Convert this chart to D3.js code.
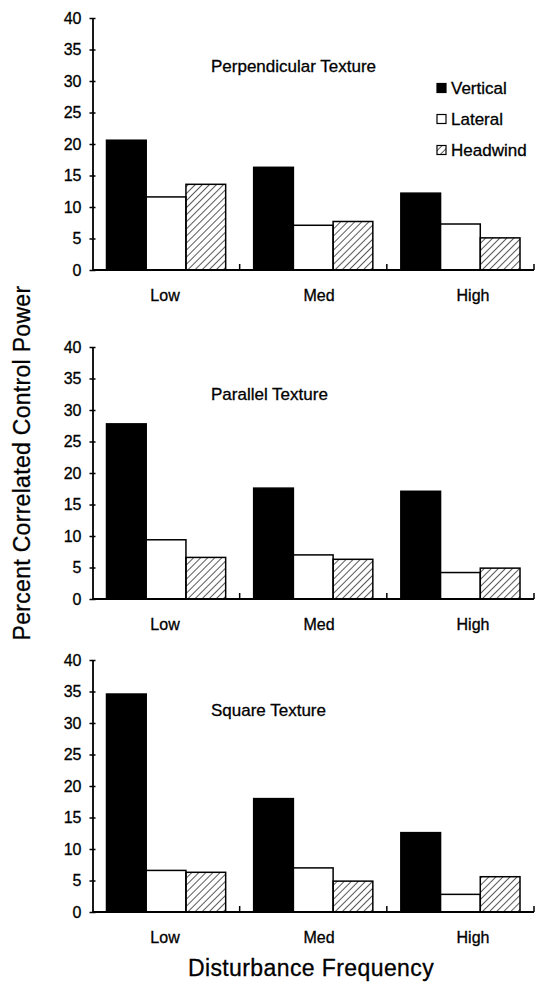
<!DOCTYPE html>
<html>
<head>
<meta charset="utf-8">
<script src="https://cdn.jsdelivr.net/npm/d3@7"></script>
<style>
body { margin: 0; background: #fff; }
text { font-family: "Liberation Sans", Arial, sans-serif; fill: #000; stroke: #000; stroke-width: 0.3px; }
</style>
</head>
<body>
<script>

var categories = ["Low", "Med", "High"];
var series = ["Vertical", "Lateral", "Headwind"];
var yTicks = [0, 5, 10, 15, 20, 25, 30, 35, 40];
var panelTitles = ["Perpendicular Texture", "Parallel Texture", "Square Texture"];
// one row per category: [Vertical, Lateral, Headwind]
var perpendicular = [[20.6, 11.6, 13.6], [16.3, 7.1, 7.7], [12.2, 7.3, 5.1]];
var parallel = [[27.8, 9.4, 6.6], [17.6, 7.0, 6.3], [17.1, 4.2, 4.9]];
var square = [[34.6, 6.6, 6.3], [18.0, 7.0, 4.9], [12.6, 2.8, 5.6]];

var w = 546, h = 983;
var panelTops = [18, 347, 660];
var panelH = 252;

var svg = d3.select("body").append("svg")
    .attr("width", w)
    .attr("height", h);

// diagonal hatch for Headwind
svg.append("defs").append("pattern")
    .attr("id", "hatch")
    .attr("patternUnits", "userSpaceOnUse")
    .attr("width", 5)
    .attr("height", 5)
    .attr("patternTransform", "rotate(45)")
  .append("line")
    .attr("x1", 0).attr("y1", 0)
    .attr("x2", 0).attr("y2", 5)
    .style("stroke", "#000")
    .style("stroke-width", 1.3);

var fills = { Vertical: "#000", Lateral: "#fff", Headwind: "url(#hatch)" };

var x0 = d3.scaleBand().domain(categories).range([92.5, 534]);
var x1 = d3.scaleBand().domain(series).range([14, x0.bandwidth() - 14]);
// the printed labels sit a little right of the group centres
var xLab = d3.scaleBand().domain(categories).range([88, 550]);
var y = d3.scaleLinear().domain([0, 40]).range([panelH, 0]);

var panelData = [perpendicular, parallel, square];

panelData.forEach(function(vals, p) {
  var g = svg.append("g").attr("transform", "translate(0," + panelTops[p] + ")");

  var groups = g.selectAll("g.grp")
      .data(categories)
      .enter()
      .append("g")
      .attr("transform", function(d) { return "translate(" + x0(d) + ",0)"; });

  groups.selectAll("rect")
      .data(function(d, i) { return series.map(function(s, j) { return { s: s, v: vals[i][j] }; }); })
      .enter()
      .append("rect")
      .attr("x", function(d) { return x1(d.s); })
      .attr("y", function(d) { return y(d.v); })
      .attr("width", x1.bandwidth())
      .attr("height", function(d) { return y(0) - y(d.v); })
      .style("fill", function(d) { return fills[d.s]; })
      .style("stroke", "#000")
      .style("stroke-width", 1.5);

  // y axis with cross ticks
  var ya = g.append("g")
      .attr("transform", "translate(92.5,0)")
      .call(d3.axisLeft(y).tickValues(yTicks).tickSize(3).tickSizeOuter(0).tickPadding(8));
  ya.selectAll(".tick line").attr("x1", 3).style("stroke-width", 1.5);
  ya.select(".domain").style("stroke-width", 1.8);
  ya.selectAll("text").style("font-size", "16px");

  // x axis baseline and group boundary ticks
  var xa = g.append("g")
      .attr("transform", "translate(0," + y(0) + ")");
  xa.append("line")
      .attr("x1", x0.range()[0])
      .attr("x2", x0.range()[1])
      .style("stroke", "#000")
      .style("stroke-width", 1.8);
  xa.selectAll("line.bound")
      .data(categories)
      .enter()
      .append("line")
      .attr("class", "bound")
      .attr("x1", function(d) { return x0(d) + x0.bandwidth(); })
      .attr("x2", function(d) { return x0(d) + x0.bandwidth(); })
      .attr("y1", 0)
      .attr("y2", -6)
      .style("stroke", "#000")
      .style("stroke-width", 1.5);

  var xl = xa.append("g")
      .call(d3.axisBottom(xLab).tickSize(0).tickPadding(20));
  xl.select(".domain").remove();
  xl.selectAll("text").style("font-size", "16px");

  g.append("text")
      .attr("x", 211)
      .attr("y", [48, 47, 50][p])
      .attr("dy", "0.35em")
      .style("font-size", "17px")
      .text(panelTitles[p]);

  if (p === 0) {
    var leg = g.selectAll("g.leg")
        .data(series)
        .enter()
        .append("g")
        .attr("transform", function(d, i) { return "translate(437," + (70 + i * 31) + ")"; });
    leg.append("rect")
        .attr("x", 0).attr("y", -4.5)
        .attr("width", 9).attr("height", 9)
        .style("fill", function(d) { return fills[d]; })
        .style("stroke", "#000")
        .style("stroke-width", 1.2);
    leg.append("text")
        .attr("x", 14)
        .attr("dy", "0.35em")
        .style("font-size", "17px")
        .text(function(d) { return d; });
  }
});

svg.append("text")
    .attr("transform", "translate(22,463) rotate(-90)")
    .attr("text-anchor", "middle")
    .attr("dy", "0.35em")
    .style("font-size", "23px")
    .style("letter-spacing", "0.3px")
    .text("Percent Correlated Control Power");

svg.append("text")
    .attr("x", 311)
    .attr("y", 968)
    .attr("text-anchor", "middle")
    .attr("dy", "0.35em")
    .style("font-size", "23px")
    .style("letter-spacing", "0.4px")
    .text("Disturbance Frequency");

</script>
</body>
</html>
